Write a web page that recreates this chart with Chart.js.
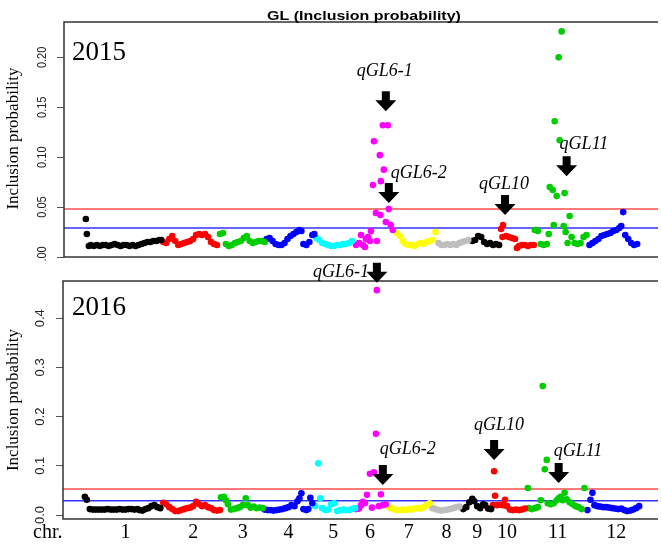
<!doctype html>
<html>
<head>
<title>GL (Inclusion probability)</title>
<script src="https://cdn.jsdelivr.net/npm/chart.js@4"></script>
<style>
body { margin: 0; background: #fff; }
#top { position: absolute; left: 0; top: 0; }
#bottom { position: absolute; left: 0; top: 261px; }
</style>
</head>
<body>
<canvas id="top" width="662" height="261"></canvas>
<canvas id="bottom" width="662" height="284"></canvas>
<script>
// chromosome colours, names and label positions (genome position units)
var chrColors = ['#000000', '#ff0000', '#00cd00', '#0000ff', '#00ffff', '#ff00ff',
                 '#ffff00', '#bebebe', '#000000', '#ff0000', '#00cd00', '#0000ff'];
var chrNames = ['1', '2', '3', '4', '5', '6', '7', '8', '9', '10', '11', '12'];
var chrCenters = [62, 130, 180, 226, 271, 308, 347, 385, 416, 446, 497, 556];

// 2015: [position, inclusion probability] per chromosome
var s15_1 = [[22,0.038],[23,0.023],[25,0.011],[27,0.012],[30,0.011],[33,0.012],[36,0.011],[39,0.012],[42,0.012],[45,0.011],[48,0.012],[51,0.013],[54,0.012],[57,0.011],[60,0.012],[63,0.012],[66,0.011],[69,0.012],[72,0.011],[75,0.012],[78,0.013],[81,0.014],[84,0.015],[87,0.015],[90,0.016],[93,0.016],[96,0.017],[98,0.017]];
var s15_2 = [[100,0.015],[103,0.014],[106,0.018],[109,0.021],[112,0.016],[115,0.012],[118,0.013],[121,0.014],[124,0.015],[127,0.016],[130,0.018],[133,0.022],[136,0.023],[139,0.022],[142,0.023],[145,0.020],[148,0.015],[151,0.013],[154,0.012]];
var s15_3 = [[157,0.023],[160,0.024],[163,0.013],[166,0.011],[169,0.012],[172,0.014],[175,0.015],[178,0.016],[181,0.019],[184,0.021],[187,0.016],[190,0.014],[193,0.015],[196,0.016],[199,0.016],[202,0.015]];
var s15_4 = [[204,0.018],[207,0.019],[210,0.016],[213,0.013],[216,0.012],[219,0.012],[222,0.014],[225,0.018],[228,0.021],[231,0.023],[234,0.025],[237,0.027],[239,0.026],[241,0.013],[244,0.012],[247,0.015],[250,0.022],[252,0.023]];
var s15_5 = [[254,0.019],[257,0.017],[260,0.014],[263,0.013],[266,0.012],[269,0.011],[272,0.011],[275,0.012],[278,0.012],[281,0.013],[284,0.013],[287,0.014],[290,0.016]];
var s15_6 = [[294,0.012],[297,0.014],[299,0.022],[301,0.012],[303,0.010],[304,0.018],[306,0.020],[308,0.016],[309,0.026],[311,0.072],[312,0.116],[314,0.044],[315,0.016],[318,0.102],[318.5,0.042],[319,0.076],[321,0.132],[322,0.0875],[324,0.035],[326,0.132],[327,0.048],[329,0.032],[331,0.027]];
var s15_7 = [[335,0.024],[338,0.021],[341,0.016],[344,0.013],[347,0.012],[350,0.012],[353,0.011],[356,0.013],[359,0.014],[362,0.013],[365,0.015],[368,0.016],[371,0.017],[374,0.025]];
var s15_8 = [[377,0.014],[380,0.012],[383,0.012],[386,0.013],[389,0.012],[392,0.013],[395,0.012],[398,0.014],[401,0.015],[404,0.016],[407,0.017]];
var s15_9 = [[411,0.016],[414,0.017],[417,0.021],[420,0.020],[423,0.015],[426,0.013],[429,0.014],[432,0.012],[435,0.013],[438,0.012]];
var s15_10 = [[440,0.028],[441.5,0.020],[442,0.032],[445,0.021],[448,0.020],[451,0.019],[454,0.018],[456,0.009],[458,0.011],[461,0.012],[464,0.012],[467,0.011],[470,0.012],[473,0.012]];
var s15_11 = [[474,0.027],[477,0.026],[480,0.013],[483,0.012],[486,0.013],[488,0.023],[489,0.070],[492,0.067],[493,0.032],[494,0.136],[496,0.061],[498,0.200],[499,0.117],[501,0.226],[503,0.031],[504,0.064],[505,0.025],[507,0.014],[509,0.041],[511,0.020],[514,0.014],[517,0.013],[520,0.014],[523,0.020],[526,0.022]];
var s15_12 = [[529,0.012],[532,0.014],[535,0.016],[538,0.018],[541,0.021],[544,0.022],[547,0.023],[550,0.024],[553,0.026],[556,0.027],[559,0.029],[561,0.031],[563,0.045],[565,0.022],[568,0.018],[571,0.014],[574,0.012],[577,0.013]];

// 2016
var s16_1 = [[21,0.037],[23,0.031],[26,0.012],[29,0.011],[32,0.011],[35,0.011],[38,0.011],[41,0.011],[44,0.012],[47,0.011],[50,0.011],[53,0.011],[56,0.012],[59,0.011],[62,0.011],[65,0.012],[68,0.012],[71,0.011],[74,0.012],[76,0.010],[79,0.009],[82,0.012],[85,0.014],[88,0.018],[91,0.020],[94,0.016],[97,0.014]];
var s16_2 = [[100,0.025],[103,0.022],[106,0.016],[109,0.012],[112,0.008],[115,0.008],[118,0.010],[121,0.012],[124,0.014],[127,0.015],[130,0.018],[133,0.027],[136,0.022],[139,0.018],[142,0.020],[145,0.016],[148,0.014],[151,0.010],[154,0.009],[157,0.010]];
var s16_3 = [[158,0.036],[161,0.037],[163,0.030],[165,0.022],[168,0.011],[171,0.012],[174,0.014],[177,0.016],[180,0.020],[183,0.034],[185,0.020],[188,0.015],[191,0.017],[194,0.014],[197,0.015],[200,0.014]];
var s16_4 = [[202,0.011],[205,0.010],[208,0.010],[211,0.009],[214,0.010],[217,0.011],[220,0.012],[223,0.014],[226,0.016],[229,0.020],[232,0.018],[235,0.028],[237,0.034],[239,0.044],[241,0.012],[244,0.010],[246,0.012],[248,0.035],[250,0.024]];
var s16_5 = [[253,0.018],[256,0.105],[258,0.034],[260,0.014],[263,0.010],[266,0.011],[269,0.022],[272,0.024],[275,0.008],[278,0.010],[281,0.011],[284,0.010],[287,0.010],[290,0.012],[293,0.014]];
var s16_6 = [[294,0.012],[297,0.013],[299,0.020],[301,0.027],[303,0.024],[305,0.041],[308,0.084],[310,0.015],[312,0.087],[314,0.165],[315,0.457],[317,0.018],[319,0.042],[321,0.020],[324,0.022]];
var s16_7 = [[326,0.018],[329,0.014],[332,0.012],[335,0.010],[338,0.010],[341,0.011],[344,0.010],[347,0.012],[350,0.011],[353,0.013],[356,0.014],[359,0.013],[362,0.016],[365,0.020],[368,0.024]];
var s16_8 = [[371,0.014],[374,0.012],[377,0.010],[380,0.009],[383,0.010],[386,0.011],[389,0.012],[392,0.014],[395,0.016],[398,0.017]];
var s16_9 = [[402,0.012],[405,0.016],[408,0.026],[411,0.033],[413,0.028],[416,0.018],[419,0.014],[422,0.022],[424,0.020],[427,0.013],[430,0.012]];
var s16_10 = [[432,0.020],[433,0.089],[434,0.039],[436,0.020],[439,0.021],[442,0.020],[444,0.031],[446,0.018],[449,0.011],[452,0.010],[455,0.011],[458,0.010],[461,0.011],[464,0.013]];
var s16_11 = [[467,0.055],[468,0.014],[471,0.012],[474,0.014],[477,0.016],[480,0.030],[482,0.262],[484,0.093],[486,0.112],[487,0.024],[490,0.022],[493,0.024],[496,0.030],[498,0.034],[500,0.037],[502,0.030],[504,0.045],[506,0.032],[509,0.026],[512,0.022],[515,0.018],[518,0.016],[521,0.012],[524,0.055]];
var s16_12 = [[527,0.010],[530,0.031],[532,0.045],[534,0.020],[537,0.018],[540,0.017],[543,0.016],[546,0.016],[549,0.015],[552,0.014],[555,0.013],[558,0.012],[561,0.013],[564,0.010],[567,0.008],[570,0.009],[573,0.011],[576,0.014],[579,0.018]];

// thresholds [red, blue]
var thr2015 = [0.048, 0.029];
var thr2016 = [0.053, 0.029];

// y ticks
var ticks2015 = [0, 0.05, 0.10, 0.15, 0.20];
var tickLabels2015 = ['0.00', '0.05', '0.10', '0.15', '0.20'];
var ticks2016 = [0, 0.1, 0.2, 0.3, 0.4];
var tickLabels2016 = ['0.0', '0.1', '0.2', '0.3', '0.4'];

// QTL labels, position and arrow tip value
var qtl2015 = ['qGL6-1', 'qGL6-2', 'qGL10', 'qGL11'];
var qtlPos2015 = [324, 327, 444, 506];
var qtlTip2015 = [0.146, 0.054, 0.042, 0.081];
var qtl2016 = ['qGL6-1', 'qGL6-2', 'qGL10', 'qGL11'];
var qtlPos2016 = [315, 321, 433, 498];
var qtlTip2016 = [0.472, 0.061, 0.112, 0.065];

var SERIF = '"Liberation Serif", "Times New Roman", serif';
var SANS = '"Liberation Sans", Arial, sans-serif';

function drawArrow(ctx, x, tip) {
  ctx.beginPath();
  ctx.moveTo(x - 4, tip - 20);
  ctx.lineTo(x + 4, tip - 20);
  ctx.lineTo(x + 4, tip - 11);
  ctx.lineTo(x + 10.5, tip - 11);
  ctx.lineTo(x, tip);
  ctx.lineTo(x - 10.5, tip - 11);
  ctx.lineTo(x - 4, tip - 11);
  ctx.closePath();
  ctx.fill();
}

var panelPlugin = {
  id: 'panel',
  afterDraw: function(chart, args, o) {
    var ctx = chart.ctx, a = chart.chartArea;
    var xs = chart.scales.x, ys = chart.scales.y;
    ctx.save();
    // box (left, top, bottom)
    ctx.strokeStyle = '#333';
    ctx.lineWidth = 1.5;
    ctx.beginPath();
    ctx.moveTo(a.right, a.top);
    ctx.lineTo(a.left, a.top);
    ctx.lineTo(a.left, a.bottom);
    ctx.lineTo(a.right, a.bottom);
    ctx.stroke();

    // rotated y tick labels
    ctx.fillStyle = '#222';
    ctx.font = '13px ' + SANS;
    ctx.textAlign = 'center';
    ctx.textBaseline = 'middle';
    ys.ticks.forEach(function(t, i) {
      var y = ys.getPixelForValue(t.value);
      ctx.save();
      ctx.translate(o.tickX, y);
      ctx.rotate(-Math.PI / 2);
      ctx.scale(o.tickScale, 1);
      ctx.fillText(o.tickLabels[i], 0, 0);
      ctx.restore();
    });

    // y axis title
    ctx.fillStyle = '#000';
    ctx.font = '17px ' + SERIF;
    ctx.save();
    ctx.translate(14, (a.top + a.bottom) / 2 + o.titleShift);
    ctx.rotate(-Math.PI / 2);
    ctx.fillText('Inclusion probability', 0, 0);
    ctx.restore();

    // year
    ctx.textAlign = 'left';
    ctx.textBaseline = 'alphabetic';
    ctx.font = '27px ' + SERIF;
    ctx.fillText(o.year, 72, a.top + o.yearDy);

    // main title
    if (o.title) {
      ctx.save();
      ctx.font = 'bold 16px ' + SANS;
      ctx.textAlign = 'center';
      ctx.translate(364, 20);
      ctx.scale(1, 0.78);
      ctx.fillText(o.title, 0, 0);
      ctx.restore();
    }

    // QTL arrows and labels
    ctx.font = 'italic 18px ' + SERIF;
    ctx.textBaseline = 'middle';
    o.qtl.forEach(function(name, i) {
      var x = xs.getPixelForValue(o.qtlPos[i]);
      var tip = ys.getPixelForValue(o.qtlTip[i]);
      drawArrow(ctx, x, tip);
      ctx.fillText(name, x + o.labelOff[i][0], tip - 20 + o.labelOff[i][1]);
    });

    if (o.chrLabel) {
      ctx.font = '20px ' + SERIF;
      ctx.textBaseline = 'middle';
      ctx.fillText(o.chrLabel, 33, a.bottom + 14);
    }
    ctx.restore();
  }
};

function makeDatasets(series, thr, xmin, xmax) {
  var ds = [];
  series.forEach(function(s, i) {
    ds.push({
      data: s.map(function(p) { return { x: p[0], y: p[1] }; }),
      backgroundColor: chrColors[i],
      borderColor: chrColors[i],
      pointRadius: 3.3,
      pointBorderWidth: 0,
      order: 0
    });
  });
  [['#ff4d4d', thr[0]], ['#3333ff', thr[1]]].forEach(function(t) {
    ds.push({
      type: 'line',
      data: [{ x: xmin, y: t[1] }, { x: xmax, y: t[1] }],
      borderColor: t[0],
      borderWidth: 1.5,
      pointRadius: 0,
      order: 1
    });
  });
  return ds;
}

function makeChart(id, cfg) {
  return new Chart(document.getElementById(id), {
    type: 'scatter',
    data: { datasets: makeDatasets(cfg.series, cfg.thr, cfg.xmin, cfg.xmax) },
    plugins: [panelPlugin],
    options: {
      responsive: false,
      animation: false,
      devicePixelRatio: 1,
      events: [],
      layout: { padding: { top: cfg.padTop, bottom: cfg.padBottom, left: 0, right: 0 } },
      scales: {
        x: {
          type: 'linear',
          min: cfg.xmin,
          max: cfg.xmax,
          display: cfg.showX,
          grid: { display: false, drawTicks: false },
          border: { display: false },
          afterBuildTicks: function(s) {
            s.ticks = chrCenters.map(function(v) { return { value: v }; });
          },
          afterFit: function(s) { if (cfg.showX) s.height = cfg.xHeight; },
          ticks: {
            autoSkip: false,
            maxRotation: 0,
            padding: 2,
            color: '#000',
            font: { family: SERIF, size: 20 },
            callback: function(v, i) { return chrNames[i]; }
          }
        },
        y: {
          min: cfg.ymin,
          max: cfg.ymax,
          afterBuildTicks: function(s) {
            s.ticks = cfg.ticks.map(function(v) { return { value: v }; });
          },
          afterFit: function(s) { s.width = cfg.left; },
          grid: { drawOnChartArea: false, drawTicks: true, tickLength: 7, color: '#555', lineWidth: 1 },
          border: { display: false },
          ticks: { display: false }
        }
      },
      plugins: {
        legend: { display: false },
        tooltip: { enabled: false },
        panel: cfg.panel
      }
    }
  });
}

makeChart('top', {
  series: [s15_1, s15_2, s15_3, s15_4, s15_5, s15_6, s15_7, s15_8, s15_9, s15_10, s15_11, s15_12],
  thr: thr2015,
  xmin: 0, xmax: 598,
  ymin: 0, ymax: 0.2354,
  ticks: ticks2015,
  left: 64, padTop: 22, padBottom: 1,
  showX: false,
  panel: {
    tickX: 42, tickScale: 0.85, tickLabels: tickLabels2015,
    titleShift: -1, year: '2015', yearDy: 38,
    title: 'GL (Inclusion probability)',
    qtl: qtl2015, qtlPos: qtlPos2015, qtlTip: qtlTip2015,
    labelOff: [[-29, -20], [2, -10], [-26, -11], [-7, -12]]
  }
});

makeChart('bottom', {
  series: [s16_1, s16_2, s16_3, s16_4, s16_5, s16_6, s16_7, s16_8, s16_9, s16_10, s16_11, s16_12],
  thr: thr2016,
  xmin: -1, xmax: 598,
  ymin: -0.0081, ymax: 0.4756,
  ticks: ticks2016,
  left: 63, padTop: 20, padBottom: 0,
  showX: true, xHeight: 26,
  panel: {
    tickX: 40, tickScale: 1, tickLabels: tickLabels2016,
    titleShift: 0, year: '2016', yearDy: 34,
    title: null,
    qtl: qtl2016, qtlPos: qtlPos2016, qtlTip: qtlTip2016,
    labelOff: [[-64, 9], [-3, -16], [-20, -15], [-5, -12]],
    chrLabel: 'chr.'
  }
});
</script>
</body>
</html>
